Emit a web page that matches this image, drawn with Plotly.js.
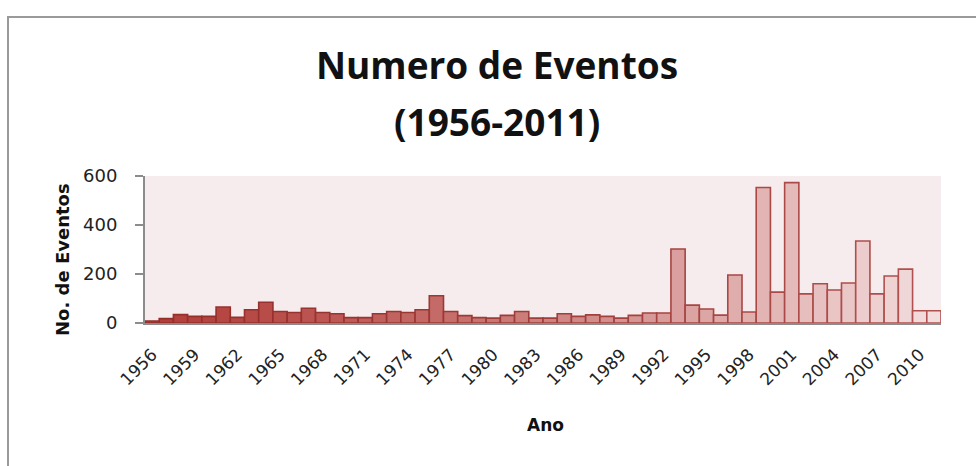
<!DOCTYPE html>
<html>
<head>
<meta charset="utf-8">
<script src="https://cdn.plot.ly/plotly-3.0.1.min.js"></script>
<style>
  html, body { margin: 0; padding: 0; background: #ffffff; overflow: hidden; }
  #frame { position: absolute; left: 7px; top: 16px; width: 980px; height: 460px;
           border-left: 2px solid #9a9a9a; border-top: 2px solid #9a9a9a; }
  #chart { position: absolute; left: 0; top: 0; width: 976px; height: 466px; }
</style>
</head>
<body>
<div id="frame"></div>
<div id="chart"></div>
<script>
const years = [1956,1957,1958,1959,1960,1961,1962,1963,1964,1965,
               1966,1967,1968,1969,1970,1971,1972,1973,1974,1975,
               1976,1977,1978,1979,1980,1981,1982,1983,1984,1985,
               1986,1987,1988,1989,1990,1991,1992,1993,1994,1995,
               1996,1997,1998,1999,2000,2001,2002,2003,2004,2005,
               2006,2007,2008,2009,2010,2011];
const eventos = [8,18,34,27,27,65,23,54,85,47,
                 43,60,43,38,22,22,38,47,43,54,
                 111,47,30,22,20,31,47,20,20,38,
                 27,33,27,20,31,41,41,302,73,57,
                 32,196,45,553,126,573,119,160,135,163,
                 335,119,192,220,50,50];
const yTicks = [0, 200, 400, 600];
const titleLine1 = 'Numero de Eventos';
const titleLine2 = '(1956-2011)';
const xTitle = 'Ano';
const yTitle = 'No. de Eventos';

// styling: colour gradient from dark red to pale pink along the bars
function mix(a, b, t) {
  return 'rgb(' + a.map((v, k) => Math.round(v + (b[k] - v) * t)).join(',') + ')';
}
const n = years.length;
const fillDark = [178, 62, 58], fillLight = [243, 222, 222];
const lineDark = [148, 46, 42], lineLight = [178, 82, 80];
const fills = years.map((_, i) => mix(fillDark, fillLight, Math.pow(i / (n - 1), 1.25)));
const lines = years.map((_, i) => mix(lineDark, lineLight, Math.pow(i / (n - 1), 1.25)));

const titleFont = '"Open Sans", sans-serif';
const axisFont = '"DejaVu Sans", sans-serif';

Plotly.newPlot('chart', [{
  type: 'bar',
  x: years,
  y: eventos,
  marker: { color: fills, line: { color: lines, width: 1.6 } },
  hoverinfo: 'x+y'
}], {
  width: 976, height: 466,
  margin: { l: 145, r: 35, t: 176, b: 143, pad: 0 },
  paper_bgcolor: 'rgba(0,0,0,0)',
  plot_bgcolor: '#f6eced',
  bargap: 0,
  showlegend: false,
  title: {
    text: titleLine1,
    x: 497 / 976, xanchor: 'center', xref: 'container',
    y: 1 - 66 / 466, yanchor: 'middle', yref: 'container',
    font: { family: titleFont, size: 37, color: '#111111', weight: 'bold' }
  },
  annotations: [
    { text: titleLine2, xref: 'paper', yref: 'paper',
      x: (497 - 145) / 796, y: (323 - 121) / 147, xanchor: 'center', yanchor: 'middle',
      showarrow: false,
      font: { family: titleFont, size: 37, color: '#111111', weight: 'bold' } },
    { text: xTitle, xref: 'paper', yref: 'paper',
      x: (545 - 145) / 796, y: (323 - 425) / 147, xanchor: 'center', yanchor: 'middle',
      showarrow: false,
      font: { family: axisFont, size: 17, color: '#111111', weight: 'bold' } },
    { text: yTitle, xref: 'paper', yref: 'paper', textangle: -90,
      x: (62 - 145) / 796, y: (323 - 260) / 147, xanchor: 'center', yanchor: 'middle',
      showarrow: false,
      font: { family: axisFont, size: 18, color: '#111111', weight: 'bold' } }
  ],
  xaxis: {
    range: [1955.5, 2011.5],
    tickmode: 'linear', tick0: 1956, dtick: 3,
    tickangle: -45,
    ticks: '', ticklabelstandoff: 13,
    showgrid: false, zeroline: false,
    showline: true, linecolor: '#8c8c8c', linewidth: 2,
    tickfont: { family: axisFont, size: 17, color: '#222222' }
  },
  yaxis: {
    range: [0, 600],
    tickmode: 'array', tickvals: yTicks, ticktext: yTicks.map(String),
    ticks: 'outside', ticklen: 8, tickwidth: 2, tickcolor: '#8c8c8c',
    ticklabelstandoff: 14,
    showgrid: false, zeroline: false,
    showline: true, linecolor: '#8c8c8c', linewidth: 2,
    tickfont: { family: axisFont, size: 18, color: '#222222' }
  }
}, { displayModeBar: false, staticPlot: true });
</script>
</body>
</html>
